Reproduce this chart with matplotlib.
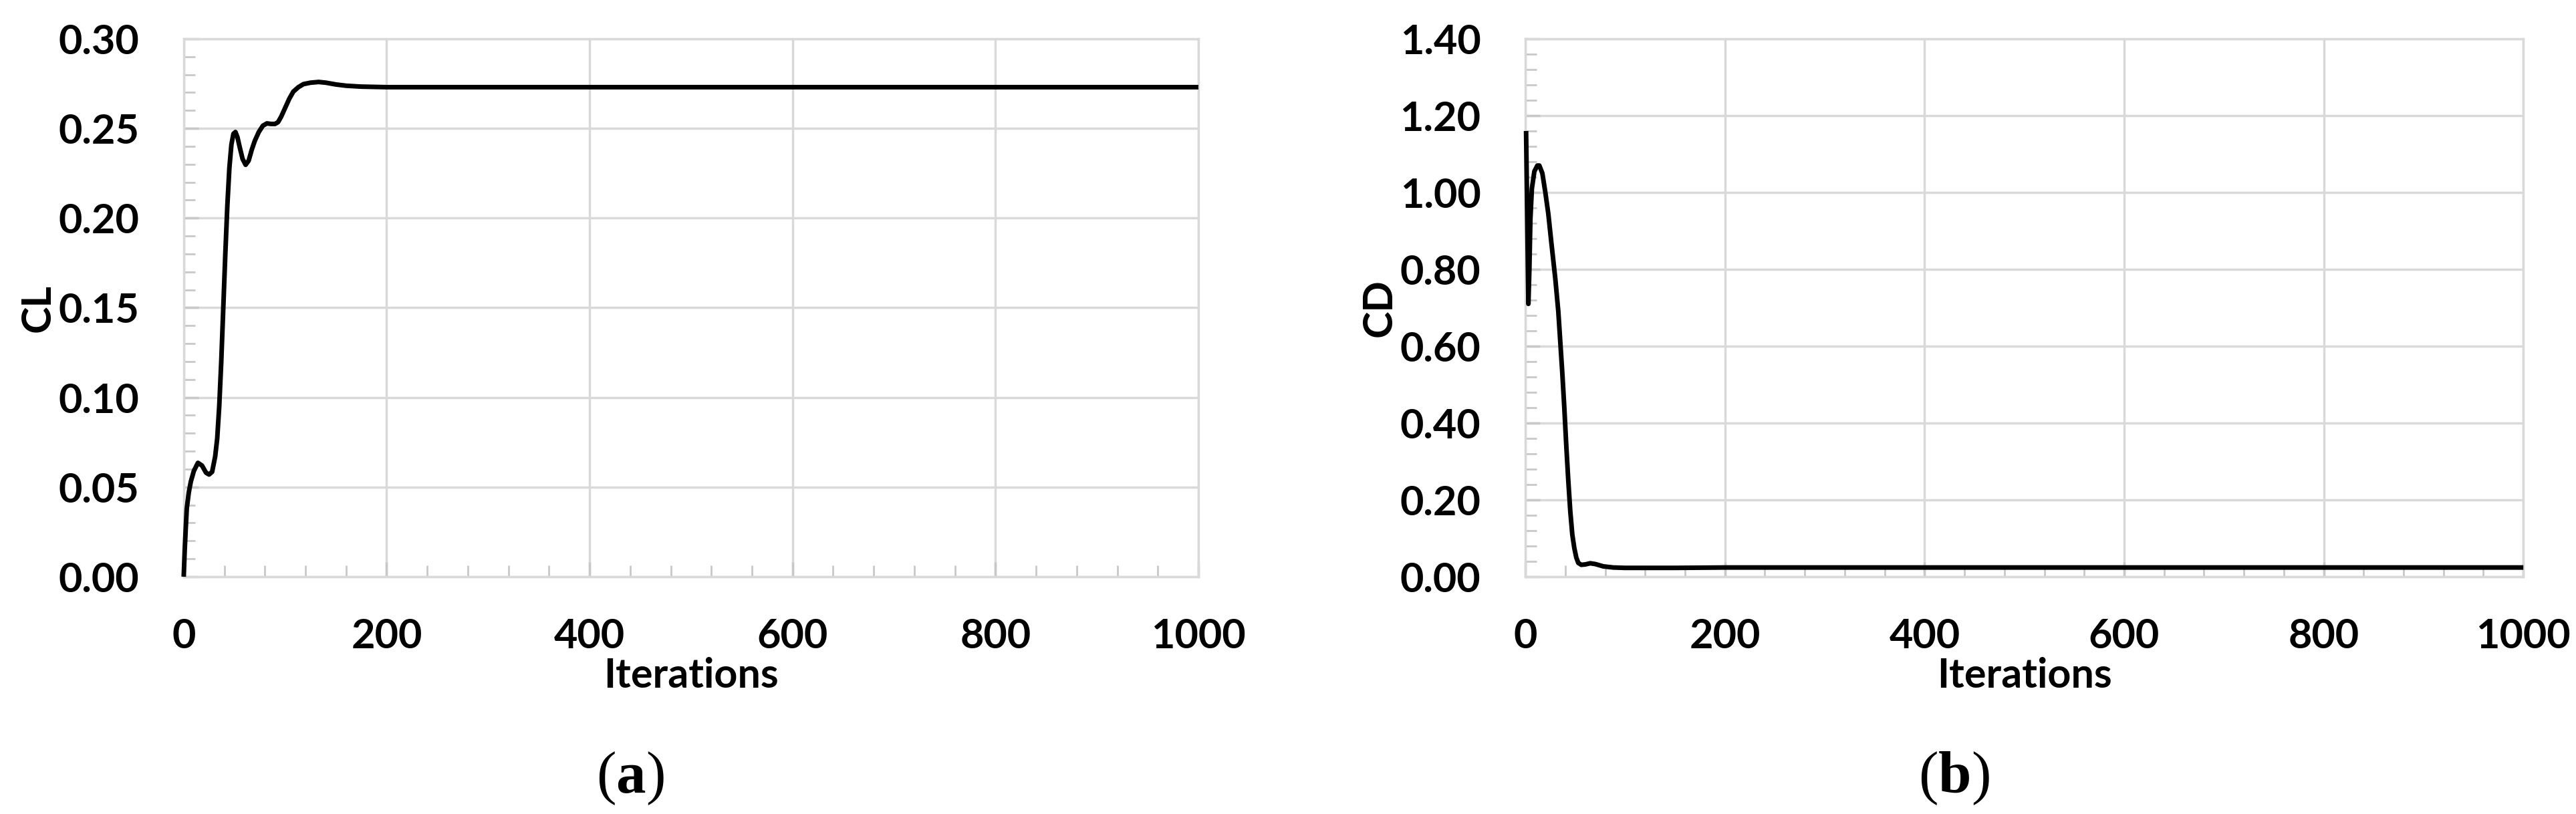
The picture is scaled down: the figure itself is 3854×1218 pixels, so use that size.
import matplotlib.pyplot as plt
from matplotlib.ticker import MultipleLocator, FormatStrFormatter

plt.switch_backend('Agg')

plt.rcParams['font.family'] = ['Lato', 'DejaVu Sans']
plt.rcParams['font.weight'] = 'bold'
plt.rcParams['mathtext.fontset'] = 'custom'
plt.rcParams['mathtext.rm'] = 'Liberation Serif'
plt.rcParams['mathtext.bf'] = 'Liberation Serif:bold'

# lift coefficient history
cl_iter = [0, 1, 2, 3, 5, 7, 10, 14, 18, 22, 25, 28, 31, 33, 35, 37, 39, 41,
           43, 45, 47, 49, 51, 53, 55, 58, 61, 64, 67, 70, 74, 78, 82, 86,
           90, 93, 96, 100, 104, 108, 113, 118, 125, 133, 140, 150, 160,
           175, 200, 300, 400, 500, 600, 700, 800, 900, 1000]
cl_vals = [0.000, 0.015, 0.027, 0.038, 0.047, 0.053, 0.059, 0.0635, 0.062,
           0.058, 0.057, 0.0585, 0.067, 0.077, 0.095, 0.120, 0.150, 0.180,
           0.207, 0.228, 0.241, 0.247, 0.248, 0.245, 0.240, 0.233, 0.2297,
           0.232, 0.238, 0.243, 0.248, 0.2515, 0.2528, 0.2525, 0.2525,
           0.2535, 0.2565, 0.2615, 0.2665, 0.2705, 0.2730, 0.2747, 0.2755,
           0.2759, 0.2755, 0.2745, 0.2738, 0.2733, 0.2730, 0.2730, 0.2730,
           0.2730, 0.2730, 0.2730, 0.2730, 0.2730, 0.2730]

# drag coefficient history
cd_iter = [0.7, 3, 4, 5, 6.5, 9, 12, 14, 17, 20, 23, 26, 30, 33, 35, 37, 39,
           41, 43, 45, 47, 49, 51, 53, 56, 60, 65, 70, 78, 88, 100, 150,
           200, 300, 400, 500, 600, 700, 800, 900, 1000]
cd_vals = [1.16, 0.71, 0.80, 0.93, 1.01, 1.055, 1.07, 1.07, 1.05, 1.00,
           0.944, 0.87, 0.775, 0.69, 0.61, 0.53, 0.44, 0.34, 0.25, 0.17,
           0.11, 0.075, 0.05, 0.036, 0.031, 0.032, 0.035, 0.033, 0.027,
           0.024, 0.023, 0.023, 0.024, 0.024, 0.024, 0.024, 0.024, 0.024,
           0.024, 0.024, 0.024]

x_ticks = [0, 200, 400, 600, 800, 1000]
grid_col = '#d9d9d9'


def setupAxis(ax, ymax, ystep, yminor, ylabel):
    ax.set_xlim(0, 1000)
    ax.set_ylim(0, ymax)
    ax.set_xticks(x_ticks)
    ax.xaxis.set_minor_locator(MultipleLocator(40))
    ax.yaxis.set_major_locator(MultipleLocator(ystep))
    ax.yaxis.set_minor_locator(MultipleLocator(yminor))
    ax.yaxis.set_major_formatter(FormatStrFormatter('%.2f'))
    ax.grid(True, which = 'major', color = grid_col, linewidth = 2.5)
    ax.set_axisbelow(True)
    for sp in ax.spines.values():
        sp.set_color(grid_col)
        sp.set_linewidth(2.5)
    ax.tick_params(which = 'major', direction = 'in', length = 16, width = 2.5,
                   color = '#c8c8c8', labelsize = 44, labelcolor = 'black')
    ax.tick_params(which = 'minor', direction = 'in', length = 12, width = 2,
                   color = '#c8c8c8')
    ax.tick_params(axis = 'x', which = 'major', pad = 44)
    ax.tick_params(axis = 'y', which = 'major', pad = 48)
    ax.set_xlabel('Iterations', fontsize = 44, fontweight = 'bold', labelpad = 2)
    ax.set_ylabel(ylabel, fontsize = 44, fontweight = 'bold', labelpad = 2)


fig = plt.figure(figsize = (38.55, 12.18), dpi = 100)

ax1 = fig.add_axes([0.0713, 0.2915, 0.3938, 0.6609])
setupAxis(ax1, 0.30, 0.05, 0.01, 'CL')
ax1.plot(cl_iter, cl_vals, color = 'black', linewidth = 5, clip_on = False,
         solid_joinstyle = 'round', solid_capstyle = 'butt', zorder = 4)

ax2 = fig.add_axes([0.5920, 0.2915, 0.3873, 0.6609])
setupAxis(ax2, 1.40, 0.20, 0.04, 'CD')
ax2.plot(cd_iter, cd_vals, color = 'black', linewidth = 5, clip_on = False,
         solid_joinstyle = 'round', solid_capstyle = 'butt', zorder = 4)

fig.text(943 / 3855, 0.0263, r'($\mathbf{a}$)', fontsize = 64, ha = 'center',
         va = 'baseline', family = 'Liberation Serif', fontweight = 'normal')
fig.text(2923 / 3855, 0.0263, r'($\mathbf{b}$)', fontsize = 64, ha = 'center',
         va = 'baseline', family = 'Liberation Serif', fontweight = 'normal')

fig.savefig('out.png', dpi = 100)
plt.close('all')
